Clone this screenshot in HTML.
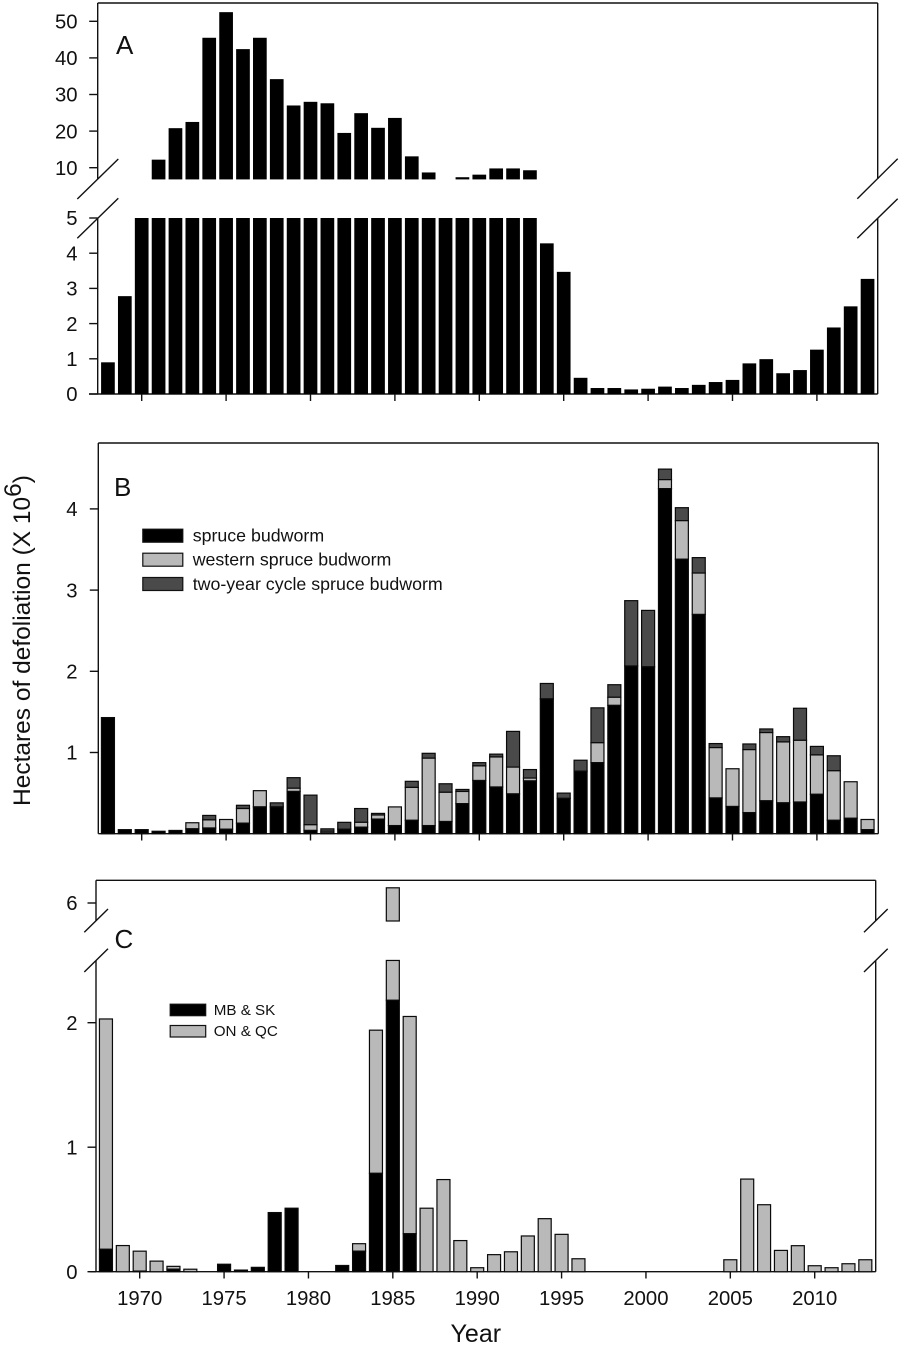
<!DOCTYPE html>
<html lang="en">
<head>
<meta charset="utf-8">
<title>Hectares of defoliation by year</title>
<style>
html,body{margin:0;padding:0;background:#fff;}
svg{display:block;}
text{font-family:"Liberation Sans",sans-serif;fill:#111;}
</style>
</head>
<body>
<svg id="chart" xmlns="http://www.w3.org/2000/svg" width="900" height="1346" viewBox="0 0 900 1346">
  <g id="panel-a">
    <text x="116" y="54" font-size="26">A</text>
  </g>
  <g id="panel-b">
    <text x="114" y="496" font-size="26">B</text>
    <g>
      <g>
        <rect x="142.8" y="529.2" width="40" height="13" fill="#000" stroke="#111" stroke-width="1.2"/>
        <text x="192.7" y="541.7" font-size="17.8">spruce budworm</text>
      </g>
      <g>
        <rect x="142.8" y="553.2" width="40" height="13" fill="#b9b9b9" stroke="#111" stroke-width="1.2"/>
        <text x="192.7" y="565.7" font-size="17.8">western spruce budworm</text>
      </g>
      <g>
        <rect x="142.8" y="577.5" width="40" height="13" fill="#4a4a4a" stroke="#111" stroke-width="1.2"/>
        <text x="192.7" y="590" font-size="17.8">two-year cycle spruce budworm</text>
      </g>
    </g>
  </g>
  <g id="panel-c">
    <text x="114.5" y="948" font-size="26">C</text>
    <g>
      <g>
        <rect x="170.2" y="1004.2" width="35.5" height="11.5" fill="#000" stroke="#111" stroke-width="1.2"/>
        <text x="213.7" y="1015" font-size="15.2">MB &amp; SK</text>
      </g>
      <g>
        <rect x="170.2" y="1025.5" width="35.5" height="11.5" fill="#b9b9b9" stroke="#111" stroke-width="1.2"/>
        <text x="213.7" y="1036" font-size="15.2">ON &amp; QC</text>
      </g>
    </g>
  </g>
  <text transform="translate(30,806) rotate(-90)" font-size="24.5">Hectares of defoliation (X 10<tspan dy="-9">6</tspan><tspan dy="9">)</tspan></text>
  <text x="475.8" y="1342" font-size="25" text-anchor="middle">Year</text>
</svg>
<script>
// ---- shared categories and tick labels ----
const years = [1968,1969,1970,1971,1972,1973,1974,1975,1976,1977,1978,1979,1980,1981,1982,1983,1984,1985,1986,1987,1988,1989,1990,1991,1992,1993,1994,1995,1996,1997,1998,1999,2000,2001,2002,2003,2004,2005,2006,2007,2008,2009,2010,2011,2012,2013];
const xTickYears = [1970,1975,1980,1985,1990,1995,2000,2005,2010];
const aLowerTicks = [0,1,2,3,4,5];
const aUpperTicks = [10,20,30,40,50];
const bTicks = [1,2,3,4];
const cLowerTicks = [0,1,2];
const cUpperTicks = [6];

// ---- panel A: total defoliation ----
const aTotal = [0.9,2.78,6.0,12.2,20.8,22.5,45.5,52.5,42.4,45.5,34.2,27,28,27.6,19.5,24.9,20.9,23.6,13.1,8.7,6.5,7.4,8.1,9.8,9.8,9.3,4.28,3.47,0.46,0.17,0.17,0.13,0.15,0.21,0.17,0.26,0.34,0.40,0.87,0.99,0.59,0.68,1.26,1.89,2.49,3.27];

// ---- panel B: stacked by budworm species ----
const bSpruce = [1.43,0.05,0.05,0.03,0.04,0.06,0.07,0.055,0.13,0.33,0.33,0.52,0.04,0.01,0.055,0.08,0.18,0.10,0.165,0.10,0.15,0.37,0.655,0.575,0.49,0.65,1.66,0.435,0.77,0.875,1.58,2.065,2.055,4.25,3.38,2.70,0.44,0.335,0.26,0.405,0.38,0.39,0.485,0.165,0.19,0.05];
const bWestern = [0,0,0,0,0,0.075,0.10,0.12,0.18,0.20,0,0.04,0.07,0.02,0,0.06,0.05,0.23,0.405,0.83,0.36,0.15,0.18,0.37,0.33,0.035,0,0,0,0.245,0.10,0,0,0.11,0.475,0.51,0.62,0.465,0.775,0.84,0.75,0.76,0.485,0.61,0.45,0.125];
const bTwoYear = [0,0,0,0,0,0,0.055,0,0.04,0,0.05,0.13,0.365,0.03,0.085,0.17,0.02,0,0.075,0.06,0.105,0.025,0.04,0.035,0.44,0.105,0.19,0.065,0.135,0.43,0.155,0.805,0.695,0.13,0.16,0.19,0.05,0,0.07,0.045,0.065,0.395,0.105,0.185,0,0];

// ---- panel C: stacked by region ----
const cMbSk = [0.18,0,0.005,0,0.02,0,0,0.06,0.013,0.035,0.475,0.51,0,0,0.05,0.165,0.79,2.18,0.305,0,0,0,0,0,0,0,0,0,0,0,0,0,0,0,0,0,0,0,0,0,0,0,0,0,0,0];
const cOnQc = [1.85,0.21,0.16,0.085,0.023,0.02,0,0,0,0,0,0,0,0,0,0.06,1.15,4.2,1.745,0.51,0.74,0.25,0.032,0.137,0.16,0.287,0.426,0.30,0.104,0,0,0,0,0,0,0,0,0.096,0.744,0.538,0.171,0.209,0.048,0.032,0.064,0.096];

// ---- axis functions ----
const xA = y => 141.7 + 16.88 * (y - 1970);
const xC = y => 139.7 + 16.875 * (y - 1970);
const yALow = v => 394 - 35.2 * v;
const yAUp = v => 167.7 - 3.66 * (v - 10);
const yB = v => 833.7 - 81.2 * v;
const yCLow = v => 1271.7 - 124.5 * v;
const yCUp = v => 903 - 40 * (v - 6);
const A_BREAK_LOW = 5, A_BREAK_HIGH = 6.8;
const C_BREAK_LOW = 2.5, C_BREAK_HIGH = 5.55;

const NS = 'http://www.w3.org/2000/svg';
const INK = '#111';
const LW = 1.4;
const BLACK = '#000', GRAY = '#b9b9b9', DARK = '#4a4a4a';
const panelA = document.getElementById('panel-a');
const panelB = document.getElementById('panel-b');
const panelC = document.getElementById('panel-c');

function mk(tag, attrs, parent, txt) {
  const n = document.createElementNS(NS, tag);
  for (const k in attrs) n.setAttribute(k, attrs[k]);
  if (txt !== undefined) n.textContent = txt;
  parent.insertBefore(n, parent.firstChild);
  return n;
}
function line(parent, name, x1, y1, x2, y2) {
  const l = mk('line', {x1, y1, x2, y2, stroke: INK, 'stroke-width': LW}, parent);
  
  
  return l;
}
function yTick(parent, panel, value, xAxis, y) {
  const t = line(parent, panel + '-y-tick-' + value, xAxis - 8.5, y, xAxis, y);
  const label = mk('text', {x: 77.5, y: y + 7.2, 'font-size': 20.3, 'text-anchor': 'end'}, parent, String(value));
  
  
  return t;
}
function rect(parent, name, x, yTop, yBottom, w, fill, stroke) {
  const r = mk('rect', {x: x - w / 2, y: yTop, width: w, height: Math.max(0.3, yBottom - yTop), fill: fill}, parent);
  if (stroke) { r.setAttribute('stroke', '#0a0a0a'); r.setAttribute('stroke-width', 1.2); }
  
  
  return r;
}

// ---- panel A ----
years.forEach((yr, i) => {
  const v = aTotal[i];
  if (!(v > 0)) return;
  rect(panelA, 'bar-a-lower-' + yr, xA(yr), yALow(Math.min(v, A_BREAK_LOW)), yALow(0), 13.7, BLACK, false);
  if (v > A_BREAK_HIGH) {
    rect(panelA, 'bar-a-upper-' + yr, xA(yr), yAUp(v), yAUp(A_BREAK_HIGH), 13.7, BLACK, false);
  }
});
line(panelA, 'panel-a-top-border', 97.7, 3, 877.7, 3);
line(panelA, 'panel-a-left-axis-upper', 97.7, 3, 97.7, 179);
line(panelA, 'panel-a-left-axis-lower', 97.7, yALow(A_BREAK_LOW), 97.7, 394);
line(panelA, 'panel-a-right-axis-upper', 877.7, 3, 877.7, 179);
line(panelA, 'panel-a-right-axis-lower', 877.7, yALow(A_BREAK_LOW), 877.7, 394);
line(panelA, 'panel-a-x-axis', 89, 394, 877.7, 394);
line(panelA, 'panel-a-break-left-upper', 77.3, 199, 118.3, 159);
line(panelA, 'panel-a-break-left-lower', 77.3, 238.3, 118.3, 198.3);
line(panelA, 'panel-a-break-right-upper', 857.3, 198.7, 897.7, 158.7);
line(panelA, 'panel-a-break-right-lower', 857.3, 238.3, 897.7, 198.7);
aLowerTicks.forEach(v => yTick(panelA, 'panel-a-lower', v, 97.7, yALow(v)));
aUpperTicks.forEach(v => yTick(panelA, 'panel-a-upper', v, 97.7, yAUp(v)));
xTickYears.forEach(yr => line(panelA, 'panel-a-x-tick-' + yr, xA(yr), 394, xA(yr), 401));

// ---- panel B ----
years.forEach((yr, i) => {
  let base = 0;
  [[bSpruce[i], BLACK, 'spruce'], [bWestern[i], GRAY, 'western'], [bTwoYear[i], DARK, 'two-year']].forEach(seg => {
    if (seg[0] > 0) {
      rect(panelB, 'bar-b-' + seg[2] + '-' + yr, xA(yr), yB(base + seg[0]), yB(base), 13, seg[1], true);
      base += seg[0];
    }
  });
});
line(panelB, 'panel-b-top-border', 98.3, 443, 878.3, 443);
line(panelB, 'panel-b-left-axis', 98.3, 443, 98.3, 833.7);
line(panelB, 'panel-b-right-axis', 878.3, 443, 878.3, 833.7);
line(panelB, 'panel-b-x-axis', 98.3, 833.7, 878.3, 833.7);
bTicks.forEach(v => yTick(panelB, 'panel-b', v, 98.3, yB(v)));
xTickYears.forEach(yr => line(panelB, 'panel-b-x-tick-' + yr, xA(yr), 833.7, xA(yr), 840.5));

// ---- panel C ----
function cSegment(name, x, a, b, fill) {
  if (a < C_BREAK_LOW) {
    rect(panelC, name + '-lower', x, yCLow(Math.min(b, C_BREAK_LOW)), yCLow(a), 13, fill, true);
  }
  if (b > C_BREAK_HIGH) {
    rect(panelC, name + '-upper', x, yCUp(b), yCUp(Math.max(a, C_BREAK_HIGH)), 13, fill, true);
  }
}
years.forEach((yr, i) => {
  let base = 0;
  [[cMbSk[i], BLACK, 'mb-sk'], [cOnQc[i], GRAY, 'on-qc']].forEach(seg => {
    if (seg[0] > 0) {
      cSegment('bar-c-' + seg[2] + '-' + yr, xC(yr), base, base + seg[0], seg[1]);
      base += seg[0];
    }
  });
});
line(panelC, 'panel-c-top-border', 96, 880.3, 875.7, 880.3);
line(panelC, 'panel-c-left-axis-upper', 96, 880.3, 96, 921);
line(panelC, 'panel-c-left-axis-lower', 96, yCLow(C_BREAK_LOW), 96, 1271.7);
line(panelC, 'panel-c-right-axis-upper', 875.7, 880.3, 875.7, 921);
line(panelC, 'panel-c-right-axis-lower', 875.7, yCLow(C_BREAK_LOW), 875.7, 1271.7);
line(panelC, 'panel-c-x-axis', 90, 1271.7, 875.7, 1271.7);
line(panelC, 'panel-c-break-left-upper', 84.3, 932.3, 108, 909);
line(panelC, 'panel-c-break-left-lower', 84.3, 972, 108, 948.7);
line(panelC, 'panel-c-break-right-upper', 864, 932.3, 887.7, 909);
line(panelC, 'panel-c-break-right-lower', 864, 972, 887.7, 948.7);
cLowerTicks.forEach(v => yTick(panelC, 'panel-c-lower', v, 96, yCLow(v)));
cUpperTicks.forEach(v => yTick(panelC, 'panel-c-upper', v, 96, yCUp(v)));
xTickYears.forEach(yr => {
  line(panelC, 'panel-c-x-tick-' + yr, xC(yr), 1271.7, xC(yr), 1278.5);
  const label = mk('text', {x: xC(yr), y: 1305, 'font-size': 20.3, 'text-anchor': 'middle'}, panelC, String(yr));
  
  
});
</script>
</body>
</html>
